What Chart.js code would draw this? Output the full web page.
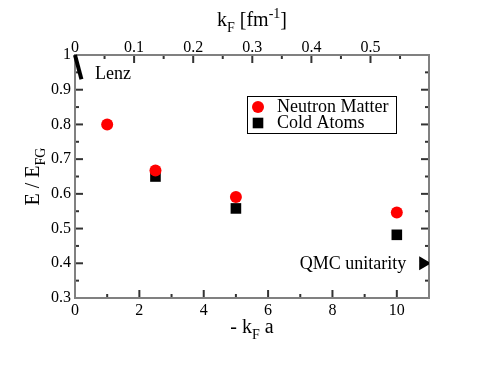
<!DOCTYPE html>
<html>
<head>
<meta charset="utf-8">
<script src="https://cdn.jsdelivr.net/npm/chart.js@4"></script>
<style>
  body { margin: 0; background: #fff; }
</style>
</head>
<body>
<canvas id="myChart" width="485" height="374"></canvas>
<script>
// Data
const neutronX = [1, 2.5, 5, 10];
const neutronY = [0.8, 0.667, 0.591, 0.546];
const atomsX = [2.5, 5, 10];
const atomsY = [0.65, 0.558, 0.482];
const lenzX = [0, 0.2];
const lenzY = [1, 0.93];
const qmcX = [10.82];
const qmcY = [0.4];

const xTicks = [0, 2, 4, 6, 8, 10];
const xMinor = [1, 3, 5, 7, 9, 11];
const kfTicks = [0, 0.1, 0.2, 0.3, 0.4, 0.5];
const kfMinor = [0.05, 0.15, 0.25, 0.35, 0.45, 0.55];
const yTicks = [0.3, 0.4, 0.5, 0.6, 0.7, 0.8, 0.9, 1];
const yMinor = [0.35, 0.45, 0.55, 0.65, 0.75, 0.85, 0.95];

const serif = "'Liberation Serif', 'DejaVu Serif', serif";

function toPoints(xs, ys) {
  return xs.map((x, i) => ({ x: x, y: ys[i] }));
}

// draw text with sub/superscripts, centered on (x, y)
function richText(ctx, parts, x, y, size, angle) {
  ctx.save();
  ctx.translate(x, y);
  ctx.rotate(angle || 0);
  let total = 0;
  parts.forEach((p) => {
    ctx.font = (p.s ? size * 0.7 : size) + "px " + serif;
    p.w = ctx.measureText(p.t).width;
    total += p.w;
  });
  let cx = -total / 2;
  ctx.fillStyle = "#000";
  ctx.textBaseline = "alphabetic";
  ctx.textAlign = "left";
  parts.forEach((p) => {
    ctx.font = (p.s ? size * 0.7 : size) + "px " + serif;
    let dy = 0;
    if (p.s === "sub") dy = size * 0.3;
    if (p.s === "sup") dy = -size * 0.42;
    ctx.fillText(p.t, cx, dy);
    cx += p.w;
  });
  ctx.restore();
}

const framePlugin = {
  id: "frame",
  beforeDatasetsDraw(chart) {
    const ctx = chart.ctx;
    const a = chart.chartArea;
    const sx = chart.scales.x, sk = chart.scales.x2, sy = chart.scales.y;
    ctx.save();
    ctx.strokeStyle = "#333";
    ctx.lineWidth = 2;
    const tick = (x1, y1, x2, y2) => {
      ctx.beginPath();
      ctx.moveTo(x1, y1);
      ctx.lineTo(x2, y2);
      ctx.stroke();
    };
    xTicks.forEach((v) => { const p = sx.getPixelForValue(v); tick(p, a.bottom, p, a.bottom - 8); });
    xMinor.forEach((v) => { const p = sx.getPixelForValue(v); tick(p, a.bottom, p, a.bottom - 4); });
    kfTicks.forEach((v) => { const p = sk.getPixelForValue(v); tick(p, a.top, p, a.top + 8); });
    kfMinor.forEach((v) => { const p = sk.getPixelForValue(v); tick(p, a.top, p, a.top + 4); });
    yTicks.forEach((v) => {
      const p = sy.getPixelForValue(v);
      tick(a.left, p, a.left + 8, p);
      tick(a.right, p, a.right - 8, p);
    });
    yMinor.forEach((v) => {
      const p = sy.getPixelForValue(v);
      tick(a.left, p, a.left + 4, p);
      tick(a.right, p, a.right - 4, p);
    });
    ctx.strokeStyle = "#808080";
    ctx.strokeRect(a.left, a.top, a.right - a.left, a.bottom - a.top);
    ctx.restore();
  },
  afterDraw(chart) {
    const ctx = chart.ctx;
    const a = chart.chartArea;
    const sx = chart.scales.x, sy = chart.scales.y;
    const mid = (a.left + a.right) / 2;

    // axis titles
    richText(ctx, [{ t: "k" }, { t: "F", s: "sub" }, { t: " [fm" }, { t: "-1", s: "sup" }, { t: "]" }], mid, 26, 20);
    richText(ctx, [{ t: "- k" }, { t: "F", s: "sub" }, { t: " a" }], mid, 333, 20);
    richText(ctx, [{ t: "E / E" }, { t: "FG", s: "sub" }], 39, (a.top + a.bottom) / 2, 20, -Math.PI / 2);

    // annotations
    ctx.save();
    ctx.fillStyle = "#000";
    ctx.font = "18px " + serif;
    ctx.textBaseline = "alphabetic";
    ctx.textAlign = "left";
    ctx.fillText("Lenz", a.left + 20, a.top + 24);
    ctx.textAlign = "right";
    ctx.fillText("QMC unitarity", sx.getPixelForValue(qmcX[0]) - 17, sy.getPixelForValue(qmcY[0]) + 6);

    // legend box
    const lx = 247, ly = 96, lw = 149, lh = 37;
    ctx.strokeStyle = "#000";
    ctx.lineWidth = 1;
    ctx.strokeRect(lx + 0.5, ly + 0.5, lw, lh);
    const items = [
      { label: "Neutron Matter", ds: chart.data.datasets[0] },
      { label: "Cold Atoms", ds: chart.data.datasets[1] },
    ];
    ctx.textAlign = "left";
    items.forEach((it, i) => {
      const cy = ly + 11 + i * 16;
      ctx.fillStyle = it.ds.pointBackgroundColor;
      ctx.strokeStyle = it.ds.pointBorderColor;
      Chart.helpers.drawPoint(ctx, {
        pointStyle: it.ds.pointStyle,
        radius: it.ds.pointRadius,
        borderWidth: it.ds.pointBorderWidth,
        rotation: 0,
      }, lx + 11, cy);
      ctx.fillStyle = "#000";
      ctx.fillText(it.label, lx + 30, cy + 5);
    });
    ctx.restore();
  },
};

const tickFont = { family: serif, size: 16 };
const plainLabel = (v) => String(v);

const ctx = document.getElementById("myChart").getContext("2d");
const myChart = new Chart(ctx, {
  type: "scatter",
  data: {
    datasets: [
      {
        label: "Neutron Matter",
        data: toPoints(neutronX, neutronY),
        pointStyle: "circle",
        pointRadius: 6,
        pointBorderWidth: 0,
        pointBackgroundColor: "#ff0000",
        pointBorderColor: "#ff0000",
      },
      {
        label: "Cold Atoms",
        data: toPoints(atomsX, atomsY),
        pointStyle: "rect",
        pointRadius: 7.5,
        pointBorderWidth: 0,
        pointBackgroundColor: "#000",
        pointBorderColor: "#000",
      },
      {
        label: "Lenz",
        type: "line",
        data: toPoints(lenzX, lenzY),
        borderColor: "#000",
        borderWidth: 4,
        pointRadius: 0,
        clip: false,
      },
      {
        label: "QMC unitarity",
        data: toPoints(qmcX, qmcY),
        pointStyle: "triangle",
        rotation: 90,
        pointRadius: 8,
        pointBorderWidth: 0,
        pointBackgroundColor: "#000",
        pointBorderColor: "#000",
      },
    ],
  },
  options: {
    responsive: false,
    animation: false,
    devicePixelRatio: 1,
    layout: { padding: 0 },
    plugins: {
      legend: { display: false },
      tooltip: { enabled: false },
    },
    scales: {
      x: {
        type: "linear",
        position: "bottom",
        min: 0,
        max: 11,
        grid: { display: false, drawTicks: false },
        border: { display: false },
        afterBuildTicks: (s) => { s.ticks = xTicks.map((v) => ({ value: v })); },
        afterFit: (s) => { s.height = 76; },
        ticks: { padding: 3, color: "#000", font: tickFont, callback: plainLabel },
      },
      x2: {
        type: "linear",
        position: "top",
        min: 0,
        max: 0.599,
        grid: { display: false, drawTicks: false },
        border: { display: false },
        afterBuildTicks: (s) => { s.ticks = kfTicks.map((v) => ({ value: v })); },
        afterFit: (s) => { s.height = 55; },
        ticks: { padding: -2, color: "#000", font: tickFont, callback: plainLabel },
      },
      y: {
        type: "linear",
        position: "left",
        min: 0.3,
        max: 1,
        grid: { display: false, drawTicks: false },
        border: { display: false },
        afterBuildTicks: (s) => { s.ticks = yTicks.map((v) => ({ value: v })); },
        afterFit: (s) => { s.width = 75; },
        ticks: { padding: 4, color: "#000", font: tickFont, callback: plainLabel },
      },
      y2: {
        type: "linear",
        position: "right",
        min: 0.3,
        max: 1,
        grid: { display: false, drawTicks: false },
        border: { display: false },
        ticks: { display: false },
        afterFit: (s) => { s.width = 56; },
      },
    },
  },
  plugins: [framePlugin],
});
</script>
</body>
</html>
